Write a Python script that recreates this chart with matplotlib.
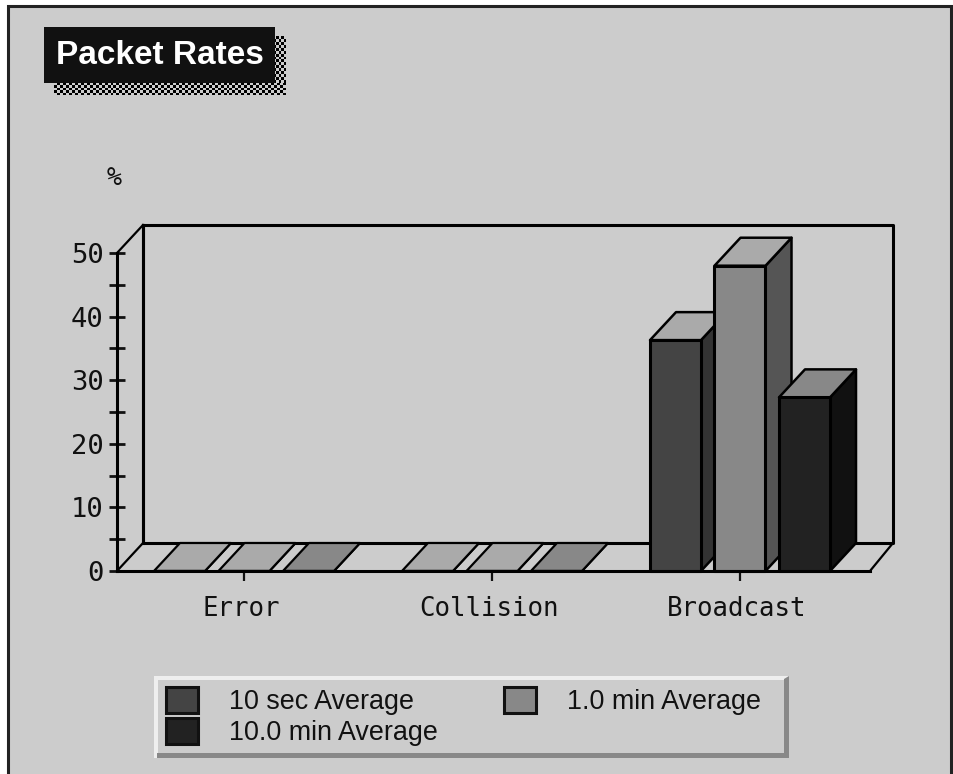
import numpy as np
import matplotlib
matplotlib.use('Agg')
import matplotlib.pyplot as plt
from matplotlib.patches import Polygon, Rectangle
from matplotlib.transforms import ScaledTranslation

# data
categories = ['Error', 'Collision', 'Broadcast']
series_names = ['10 sec Average', '1.0 min Average', '10.0 min Average']
avg_10s = [0, 0, 36.3]
avg_1m = [0, 0, 48]
avg_10m = [0, 0, 27.3]
y_ticks = [0, 10, 20, 30, 40, 50]
y_minor = [5, 15, 25, 35, 45]

front_cols = ['#444444', '#888888', '#222222']
side_cols = ['#333333', '#555555', '#111111']
top_cols = ['#aaaaaa', '#aaaaaa', '#888888']

W, H = 954, 774
BG = '#cccccc'
LW = 2.2

fig = plt.figure(figsize=(W / 100, H / 100), dpi=100, facecolor='white')

# page layer, in pixels
bg = fig.add_axes([0, 0, 1, 1], zorder=0)
bg.set_xlim(0, W)
bg.set_ylim(H, 0)
bg.axis('off')
bg.add_patch(Rectangle((8, 6), 943, H, fc=BG, ec='#222222', lw=2.2))

# title box with dithered shadow
yy, xx = np.indices((H // 3, W // 3))
checker = np.ma.masked_where((xx + yy) % 2 == 0, np.ones_like(xx))
for x0, x1, y0, y1 in [(54, 286, 83, 95), (274, 286, 36, 83)]:
    part = checker[:(y1 - y0) // 3 + 1, :(x1 - x0) // 3 + 1]
    bg.imshow(part, cmap='gray', vmin=1, vmax=2, interpolation='nearest', aspect='auto',
              extent=(x0, x1, y1, y0), zorder=1)
bg.set_xlim(0, W)
bg.set_ylim(H, 0)
bg.add_patch(Rectangle((44, 27), 231, 56, fc='#111111', ec='none', zorder=2))
bg.text(56, 56, 'Packet Rates', color='white', family='Liberation Sans', weight='bold',
        fontsize=24, va='center', ha='left', zorder=3)
bg.text(114, 178, '%', family='DejaVu Sans Mono', fontsize=18, va='center', ha='center',
        color='#111111')

# legend box
bg.add_patch(Rectangle((154, 676), 635, 82, fc='#eeeeee', ec='none', zorder=1))
bg.add_patch(Polygon([(789, 676), (789, 758), (157, 758), (157, 753), (784, 753), (784, 679)],
                     fc='#888888', ec='none', zorder=2))
bg.add_patch(Rectangle((158, 680), 626, 73, fc=BG, ec='none', zorder=2))
legend_pos = [(166, 687, 229, 702), (504, 687, 567, 702), (166, 718, 229, 733)]
for (sx, sy, tx, ty), name, col in zip(legend_pos, series_names, front_cols):
    bg.add_patch(Rectangle((sx, sy), 32, 26, fc=col, ec='#111111', lw=LW, zorder=3))
    bg.text(tx, ty, name, family='Liberation Sans', fontsize=19.4, va='center', ha='left',
            color='#111111', zorder=3)

# chart axes: front face of the box
left, right, bottom, top = 117, 870, 571, 253
ax = fig.add_axes([left / W, 1 - bottom / H, (right - left) / W, (bottom - top) / H], zorder=1)
ax.patch.set_visible(False)
group_px = 248.0
x_min = (left - 244) / group_px
x_max = (right - 244) / group_px
ax.set_xlim(x_min, x_max)
ax.set_ylim(0, 50)

# depth of the fake 3d, in data units
dx = 26 / group_px
dy = 28 / ((bottom - top) / 50)
wall_right = x_max + 23 / group_px

line = dict(color='black', lw=LW, clip_on=False, solid_capstyle='projecting', zorder=1)
ax.plot([x_min + dx, x_min + dx], [dy, 50 + dy], **line)
ax.plot([x_min + dx, wall_right, wall_right, x_min + dx, x_min + dx],
        [50 + dy, 50 + dy, dy, dy, 50 + dy], **line)
ax.plot([x_min, x_min + dx], [50, 50 + dy], color='black', lw=1.6, clip_on=False, zorder=1)
ax.plot([x_min, x_min + dx], [0, dy], color='black', lw=1.6, clip_on=False, zorder=1)
ax.plot([x_max, wall_right], [0, dy], color='black', lw=1.6, clip_on=False, zorder=1)

bar_w = 51 / group_px
step = 64.5 / group_px
series = [avg_10s, avg_1m, avg_10m]
z = 2
for g in range(len(categories)):
    for s, vals in enumerate(series):
        v = vals[g]
        x0 = g + (s - 1) * step - bar_w / 2
        x1 = x0 + bar_w
        faces = [
            ([(x1, 0), (x1 + dx, dy), (x1 + dx, v + dy), (x1, v)], side_cols[s], 1.8),
            ([(x0, v), (x1, v), (x1 + dx, v + dy), (x0 + dx, v + dy)], top_cols[s], 1.8),
            ([(x0, 0), (x1, 0), (x1, v), (x0, v)], front_cols[s], LW),
        ]
        for pts, col, w in faces:
            ax.add_patch(Polygon(pts, closed=True, fc=col, ec='black', lw=w if v > 0 else 1.6,
                                 joinstyle='round', clip_on=False, zorder=z))
        z += 1

for name in ['top', 'right']:
    ax.spines[name].set_visible(False)
for name in ['left', 'bottom']:
    ax.spines[name].set_linewidth(LW)
    ax.spines[name].set_zorder(100)

ax.set_xticks(range(len(categories)))
ax.set_xticklabels(categories, family='DejaVu Sans Mono', fontsize=18.5)
ax.set_yticks(y_ticks)
ax.set_yticklabels([str(t) for t in y_ticks], family='DejaVu Sans Mono', fontsize=19.5)
ax.set_yticks(y_minor, minor=True)
ax.tick_params(axis='x', direction='out', length=7, width=1.6, pad=11, colors='#111111')
ax.tick_params(axis='y', which='both', direction='inout', length=11, width=2, pad=4, colors='#111111')

# labels sit a little left of their ticks in the original
shift = ScaledTranslation(-3 / 100, 0, fig.dpi_scale_trans)
for lab in ax.get_xticklabels():
    lab.set_transform(lab.get_transform() + shift)

fig.savefig('out.png', dpi=100, facecolor='white')
